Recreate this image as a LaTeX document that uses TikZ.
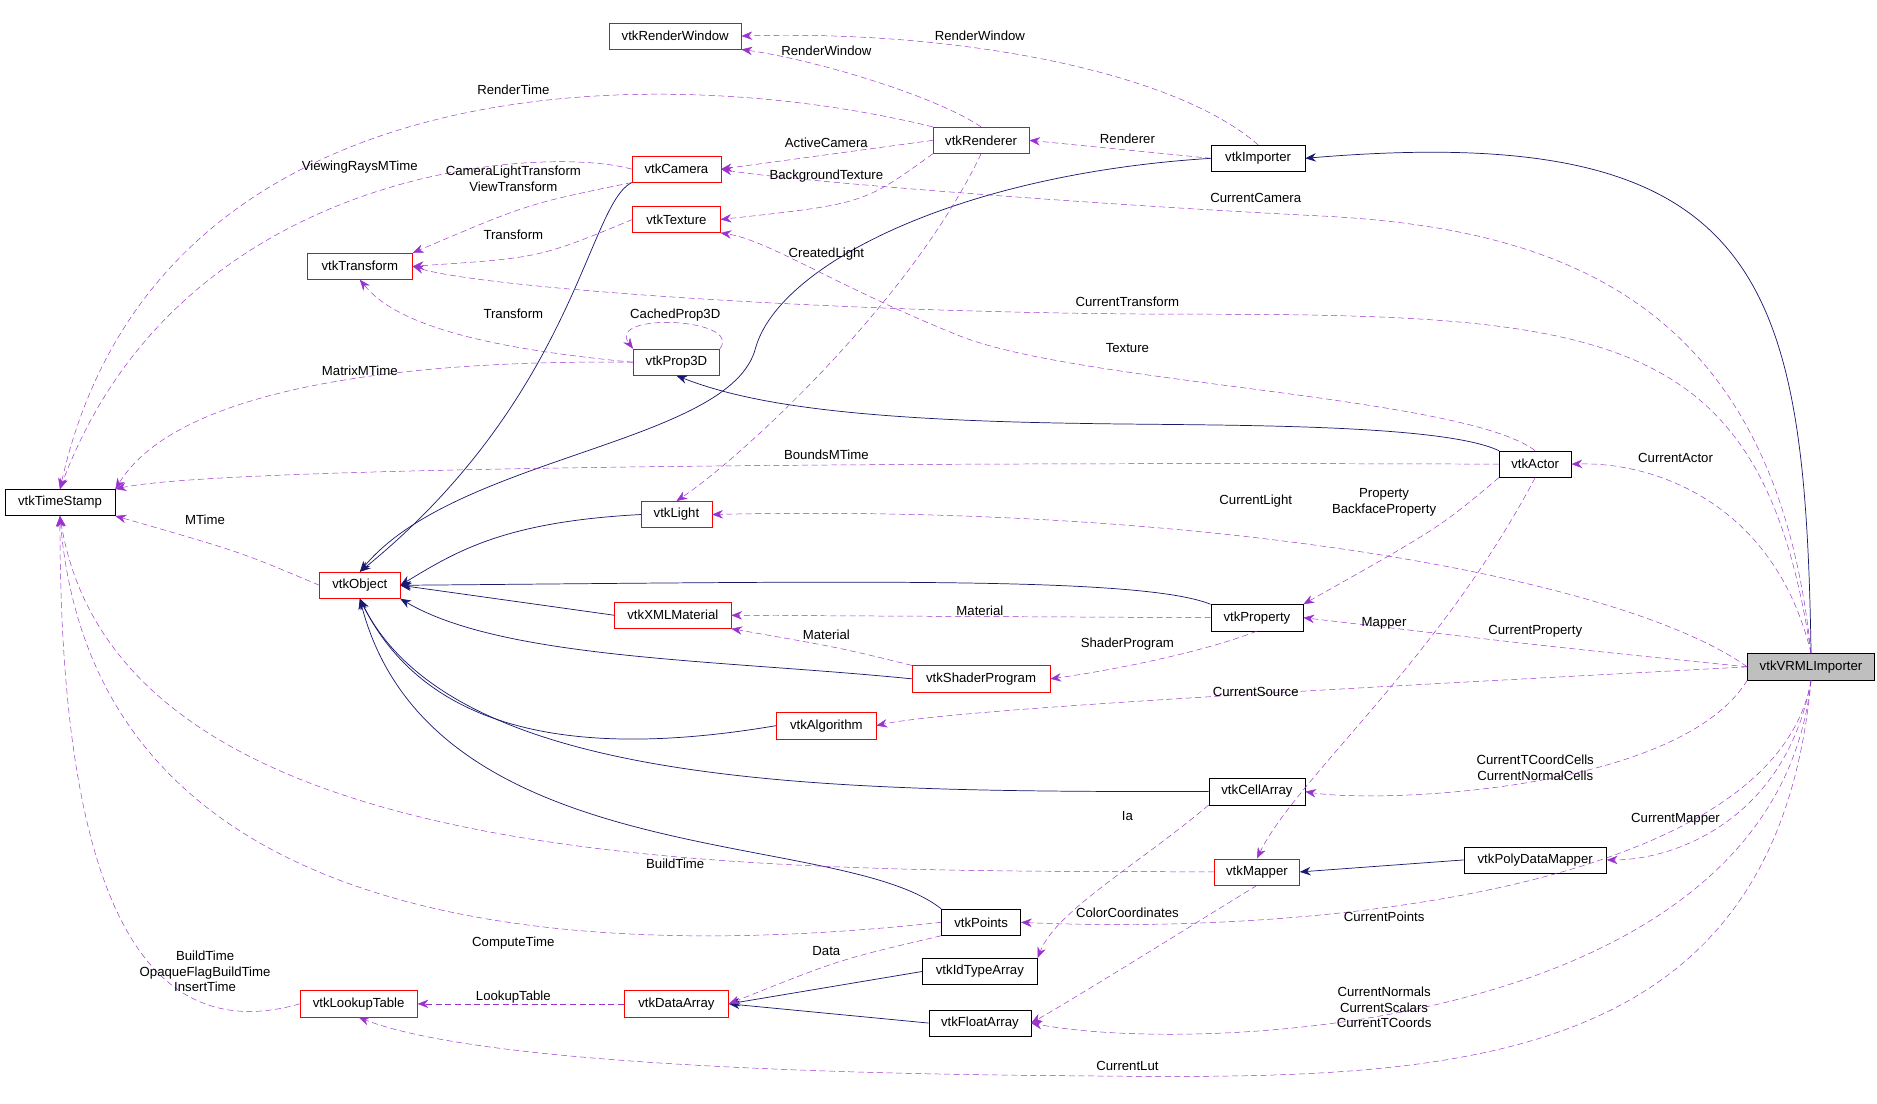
\documentclass[tikz,border=0pt]{standalone}
\usepackage{fontspec}
\setmainfont{Liberation Sans}
\usetikzlibrary{arrows.meta}
\definecolor{ed}{HTML}{9A32CD}
\definecolor{nv}{HTML}{191970}
\tikzset{
 x=1pt,y=-1pt,
 bx/.style={draw=black,fill=white,minimum height=22,inner sep=2pt,font=\fontsize{11}{13}\selectfont},
 rb/.style={bx,draw=red},
 lb/.style={font=\fontsize{11}{13}\selectfont,align=center,inner sep=1pt},
 us/.style={draw=ed,dashed,dash pattern=on 5pt off 3pt,-{Stealth[length=9pt,width=7pt]},fill=none},
 ih/.style={draw=nv,-{Stealth[length=9pt,width=7pt]},fill=none,line width=0.6pt},
}
\begin{document}
\begin{tikzpicture}
\useasboundingbox (0,0) rectangle (1565,920);
\node[rb,minimum width=110] (rw) at (563,30) {vtkRenderWindow};
\node[rb,minimum width=80] (ren) at (818,117) {vtkRenderer};
\node[bx,minimum width=78] (imp) at (1049,132) {vtkImporter};
\node[rb,minimum width=74] (cam) at (564,141) {vtkCamera};
\node[rb,minimum width=73] (tex) at (564,183) {vtkTexture};
\node[rb,minimum width=88] (tr) at (300,222) {vtkTransform};
\node[rb,minimum width=72] (p3) at (564,302) {vtkProp3D};
\node[bx,minimum width=92] (ts) at (50,419) {vtkTimeStamp};
\node[bx,minimum width=60] (act) at (1280,387) {vtkActor};
\node[rb,minimum width=59] (li) at (564,429) {vtkLight};
\node[rb,minimum width=67] (obj) at (300,488) {vtkObject};
\node[rb,minimum width=97] (xml) at (561,513) {vtkXMLMaterial};
\node[bx,minimum width=77] (pr) at (1048,515) {vtkProperty};
\node[bx,fill=black!25,minimum width=106] (vr) at (1510,556) {vtkVRMLImporter};
\node[rb,minimum width=115] (sh) at (818,566) {vtkShaderProgram};
\node[rb,minimum width=83] (alg) at (689,605) {vtkAlgorithm};
\node[bx,minimum width=80] (ca) at (1048,660) {vtkCellArray};
\node[bx,minimum width=119] (pdm) at (1280,717) {vtkPolyDataMapper};
\node[rb,minimum width=71] (map) at (1048,727) {vtkMapper};
\node[bx,minimum width=66] (pts) at (818,769) {vtkPoints};
\node[bx,minimum width=96] (ida) at (817,810) {vtkIdTypeArray};
\node[rb,minimum width=98] (lut) at (299,837) {vtkLookupTable};
\node[rb,minimum width=87] (da) at (564,837) {vtkDataArray};
\node[bx,minimum width=85] (fa) at (817,853) {vtkFloatArray};

% inheritance
\draw[ih] (vr.north) .. controls (1505,230) and (1470,100) .. (imp.east);
\draw[ih] (cam.south west) .. controls (490,170) and (480,330) .. (obj.north);
\draw[ih] (imp.west) .. controls (800,145) and (650,220) .. (630,290) .. controls (610,370) and (380,380) .. (obj.north);
\draw[ih] (act.north west) .. controls (1200,352) and (1000,355) .. (900,353) .. controls (700,350) and (620,335) .. (p3.south);
\draw[ih] (li.west) .. controls (420,435) and (380,460) .. (obj.east);
\draw[ih] (pr.north west) .. controls (950,480) and (700,485) .. (obj.east);
\draw[ih] (xml.west) -- (obj.east);
\draw[ih] (sh.west) .. controls (600,550) and (420,550) .. (obj.south east);
\draw[ih] (alg.west) .. controls (500,630) and (360,620) .. (obj.south);
\draw[ih] (ca.west) .. controls (700,660) and (380,660) .. (obj.south);
\draw[ih] (pts.north west) .. controls (700,690) and (360,730) .. (obj.south);
\draw[ih] (pdm.west) -- (map.east);
\draw[ih] (ida.west) -- (da.east);
\draw[ih] (fa.west) -- (da.east);

% usage
\draw[us] (imp.north) .. controls (980,60) and (800,25) .. (rw.east);
\draw[us] (ren.north) .. controls (780,80) and (680,50) .. (rw.south east);
\draw[us] (imp.west) -- (ren.east);
\draw[us] (ren.north west) .. controls (550,50) and (130,50) .. (ts.north);
\draw[us] (ren.west) -- (cam.east);
\draw[us] (ren.south west) .. controls (720,170) .. (tex.east);
\draw[us] (ren.south) .. controls (760,250) and (620,380) .. (li.north);
\draw[us] (cam.west) .. controls (450,120) and (150,140) .. (ts.north);
\draw[us] (cam.south west) .. controls (440,170) .. (tr.north east);
\draw[us] (tex.west) .. controls (450,215) .. (tr.east);
\draw[us] (p3.west) .. controls (400,290) and (330,270) .. (tr.south);
\draw[us] (p3.north east) .. controls (620,265) and (505,260) .. (p3.north west);
\draw[us] (p3.west) .. controls (350,300) and (150,320) .. (ts.north east);
\draw[us] (act.west) .. controls (1000,386) and (200,385) .. (ts.north east);
\draw[us] (act.north) .. controls (1220,330) and (900,320) .. (800,280) .. controls (700,240) and (640,200) .. (tex.south east);
\draw[us] (act.south west) .. controls (1200,440) .. (pr.north east);
\draw[us] (act.south) .. controls (1200,550) and (1080,650) .. (map.north);
\draw[us] (obj.west) .. controls (200,460) .. (ts.south east);
\draw[us] (pr.west) -- (xml.east);
\draw[us] (pr.south) .. controls (1000,545) and (920,560) .. (sh.east);
\draw[us] (sh.north west) .. controls (700,540) .. (xml.south east);
\draw[us] (map.west) .. controls (650,725) and (100,740) .. (ts.south);
\draw[us] (map.south) .. controls (980,780) and (900,830) .. (fa.east);
\draw[us] (ca.south west) .. controls (950,720) and (880,760) .. (ida.north east);
\draw[us] (pts.west) .. controls (500,800) and (80,790) .. (ts.south);
\draw[us] (pts.south west) .. controls (700,800) .. (da.east);
\draw[us] (lut.west) .. controls (100,880) and (50,700) .. (ts.south);
\draw[us] (da.west) -- (lut.east);
\draw[us] (vr.north) .. controls (1480,250) and (1300,190) .. (1100,180) .. controls (900,170) and (650,150) .. (cam.east);
\draw[us] (vr.north) .. controls (1470,280) and (1350,262) .. (1000,262) .. controls (700,262) and (400,240) .. (tr.east);
\draw[us] (vr.north) .. controls (1480,420) and (1380,385) .. (act.east);
\draw[us] (vr.west) .. controls (1350,480) and (1000,420) .. (li.east);
\draw[us] (vr.west) .. controls (1300,540) .. (pr.east);
\draw[us] (vr.west) .. controls (1200,570) and (800,590) .. (alg.east);
\draw[us] (vr.south west) .. controls (1400,660) and (1150,670) .. (ca.east);
\draw[us] (vr.south) .. controls (1490,680) and (1400,717) .. (pdm.east);
\draw[us] (vr.south) .. controls (1480,740) and (1100,780) .. (pts.east);
\draw[us] (vr.south) .. controls (1480,860) and (1000,880) .. (fa.east);
\draw[us] (vr.south) .. controls (1480,900) and (1200,900) .. (900,897) .. controls (600,895) and (380,880) .. (lut.south);

% labels
\node[lb] (l1) at (817,30) {RenderWindow};
\node[lb] (l2) at (689,42) {RenderWindow};
\node[lb] (l3) at (428,75) {RenderTime};
\node[lb] (l4) at (300,139) {ViewingRaysMTime};
\node[lb] (l5) at (428,149) {CameraLightTransform\\ViewTransform};
\node[lb] (l6) at (689,119) {ActiveCamera};
\node[lb] (l7) at (940,116) {Renderer};
\node[lb] (l8) at (689,147) {BackgroundTexture};
\node[lb] (l9) at (1047,165) {CurrentCamera};
\node[lb] (l10) at (428,196) {Transform};
\node[lb] (l11) at (689,212) {CreatedLight};
\node[lb] (l12) at (940,252) {CurrentTransform};
\node[lb] (l13) at (428,262) {Transform};
\node[lb] (l14) at (563,263) {CachedProp3D};
\node[lb] (l15) at (940,290) {Texture};
\node[lb] (l16) at (300,309) {MatrixMTime};
\node[lb] (l17) at (689,379) {BoundsMTime};
\node[lb] (l18) at (1397,382) {CurrentActor};
\node[lb] (l19) at (171,433) {MTime};
\node[lb] (l20) at (1047,418) {CurrentLight};
\node[lb] (l21) at (1154,419) {Property\\BackfaceProperty};
\node[lb] (l22) at (817,509) {Material};
\node[lb] (l23) at (1154,520) {Mapper};
\node[lb] (l24) at (1280,526) {CurrentProperty};
\node[lb] (l25) at (689,529) {Material};
\node[lb] (l26) at (940,537) {ShaderProgram};
\node[lb] (l27) at (1047,577) {CurrentSource};
\node[lb] (l28) at (1280,640) {CurrentTCoordCells\\CurrentNormalCells};
\node[lb] (l29) at (940,680) {Ia};
\node[lb] (l30) at (1397,683) {CurrentMapper};
\node[lb] (l31) at (563,720) {BuildTime};
\node[lb] (l32) at (940,761) {ColorCoordinates};
\node[lb] (l33) at (1154,764) {CurrentPoints};
\node[lb] (l34) at (428,786) {ComputeTime};
\node[lb] (l35) at (689,793) {Data};
\node[lb] (l36) at (171,810) {BuildTime\\OpaqueFlagBuildTime\\InsertTime};
\node[lb] (l37) at (428,831) {LookupTable};
\node[lb] (l38) at (1154,840) {CurrentNormals\\CurrentScalars\\CurrentTCoords};
\node[lb] (l39) at (940,889) {CurrentLut};
\end{tikzpicture}
\end{document}
